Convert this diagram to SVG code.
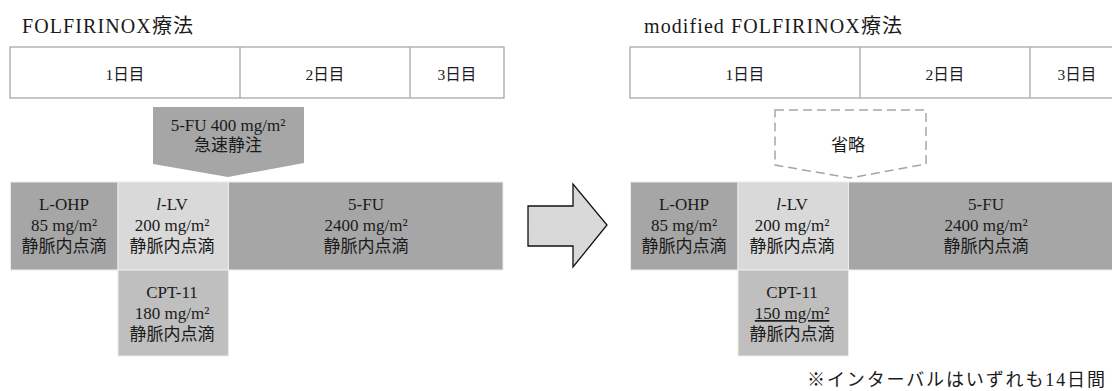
<svg xmlns="http://www.w3.org/2000/svg" width="1112" height="391" viewBox="0 0 1112 391">
<style>
  text { font-family: "Liberation Serif", "Noto Sans CJK JP", serif; fill: #1a1a1a; }
  .title { font-size: 20px; }
  .hdr { font-size: 15.5px; text-anchor: middle; }
  .lbl { font-size: 17px; text-anchor: middle; }
  .note { font-size: 18px; }
  .hdrbox { fill: #ffffff; stroke: #a8a8a8; stroke-width: 1.3; }
  .hdrline { stroke: #a8a8a8; stroke-width: 1.3; }
  .dark { fill: #a6a6a6; stroke: #ecece6; stroke-width: 1; }
  .light { fill: #d9d9d9; stroke: #ecece6; stroke-width: 1; }
  .mid { fill: #bfbfbf; stroke: #ecece6; stroke-width: 1; }
  .bolus { fill: #a6a6a6; }
  .omit { fill: none; stroke: #a6a6a6; stroke-width: 1.5; stroke-dasharray: 9 5; }
  .bigarrow { fill: #d9d9d9; stroke: #111111; stroke-width: 1.3; }
</style>

<!-- Left panel: FOLFIRINOX -->
<g id="title-left">
  <text class="title" x="22" y="33" textLength="171" lengthAdjust="spacing">FOLFIRINOX療法</text>
</g>
<g id="header-left">
  <rect class="hdrbox" x="10" y="47" width="494" height="51"/>
  <line class="hdrline" x1="240" y1="47" x2="240" y2="98"/>
  <line class="hdrline" x1="410" y1="47" x2="410" y2="98"/>
  <text class="hdr" x="125" y="80">1日目</text>
  <text class="hdr" x="325" y="80">2日目</text>
  <text class="hdr" x="457" y="80">3日目</text>
</g>
<g id="bolus-left">
  <polygon class="bolus" points="153,107 304,107 304,163 228,177 153,164"/>
  <text class="lbl" x="228" y="131">5-FU 400 mg/m²</text>
  <text class="lbl" x="228" y="151">急速静注</text>
</g>
<g id="lohp-left">
  <rect class="dark" x="10.5" y="182" width="107.5" height="88"/>
  <text class="lbl" x="64" y="210">L-OHP</text>
  <text class="lbl" x="64" y="231">85 mg/m²</text>
  <text class="lbl" x="64" y="252">静脈内点滴</text>
</g>
<g id="llv-left">
  <rect class="light" x="118" y="182" width="110.5" height="88"/>
  <text class="lbl" x="172" y="210"><tspan font-style="italic">l</tspan>-LV</text>
  <text class="lbl" x="172" y="231">200 mg/m²</text>
  <text class="lbl" x="172" y="252">静脈内点滴</text>
</g>
<g id="fu-left">
  <rect class="dark" x="228.5" y="182" width="274.5" height="88"/>
  <text class="lbl" x="366" y="210">5-FU</text>
  <text class="lbl" x="366" y="231">2400 mg/m²</text>
  <text class="lbl" x="366" y="252">静脈内点滴</text>
</g>
<g id="cpt-left">
  <rect class="mid" x="118" y="270" width="110.5" height="86"/>
  <text class="lbl" x="172" y="298">CPT-11</text>
  <text class="lbl" x="172" y="319">180 mg/m²</text>
  <text class="lbl" x="172" y="340">静脈内点滴</text>
</g>

<!-- Connector: big arrow between panels -->
<g id="connectors">
  <polygon class="bigarrow" points="528,206 573,206 573,184 607,225 573,267 573,246 528,246"/>
</g>

<!-- Right panel: modified FOLFIRINOX -->
<g id="title-right">
  <text class="title" x="644" y="33" textLength="258" lengthAdjust="spacing">modified FOLFIRINOX療法</text>
</g>
<g id="header-right">
  <rect class="hdrbox" x="630" y="47" width="494" height="51"/>
  <line class="hdrline" x1="860" y1="47" x2="860" y2="98"/>
  <line class="hdrline" x1="1030" y1="47" x2="1030" y2="98"/>
  <text class="hdr" x="745" y="80">1日目</text>
  <text class="hdr" x="945" y="80">2日目</text>
  <text class="hdr" x="1077" y="80">3日目</text>
</g>
<g id="omit-right">
  <polygon class="omit" points="775,110 926,110 926,164 850,178 775,165"/>
  <text class="lbl" x="848" y="151">省略</text>
</g>
<g id="lohp-right">
  <rect class="dark" x="630.5" y="182" width="107.5" height="88"/>
  <text class="lbl" x="684" y="210">L-OHP</text>
  <text class="lbl" x="684" y="231">85 mg/m²</text>
  <text class="lbl" x="684" y="252">静脈内点滴</text>
</g>
<g id="llv-right">
  <rect class="light" x="738" y="182" width="110.5" height="88"/>
  <text class="lbl" x="792" y="210"><tspan font-style="italic">l</tspan>-LV</text>
  <text class="lbl" x="792" y="231">200 mg/m²</text>
  <text class="lbl" x="792" y="252">静脈内点滴</text>
</g>
<g id="fu-right">
  <rect class="dark" x="848.5" y="182" width="274.5" height="88"/>
  <text class="lbl" x="986" y="210">5-FU</text>
  <text class="lbl" x="986" y="231">2400 mg/m²</text>
  <text class="lbl" x="986" y="252">静脈内点滴</text>
</g>
<g id="cpt-right">
  <rect class="mid" x="738" y="270" width="110.5" height="86"/>
  <text class="lbl" x="792" y="298">CPT-11</text>
  <text class="lbl" x="792" y="319" text-decoration="underline">150 mg/m²</text>
  <text class="lbl" x="792" y="340">静脈内点滴</text>
</g>
<g id="footnote">
  <text class="note" x="807" y="386" textLength="298" lengthAdjust="spacing">※インターバルはいずれも14日間</text>
</g>
</svg>
